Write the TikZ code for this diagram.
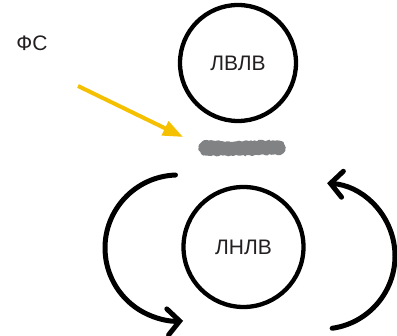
\documentclass[tikz,border=0pt]{standalone}
\usepackage{fontspec}
\setmainfont{Liberation Sans}
\usetikzlibrary{arrows.meta,decorations.pathmorphing}
\definecolor{txt}{RGB}{35,31,32}
\definecolor{smudgegray}{RGB}{128,130,132}
\definecolor{gold}{RGB}{245,192,0}
\tikzset{
  ring/.style={circle, draw=black, line width=4.3pt, inner sep=0pt, font=\fontsize{21}{21}\selectfont, text=txt},
  label/.style={font=\fontsize{21}{21}\selectfont, text=txt, inner sep=0pt},
  cycle/.style={line width=5pt, line cap=round, -{Straight Barb[length=12pt,width=26pt,line cap=round]}},
  hint/.style={gold, line width=4pt, -{Triangle[length=20pt,width=15pt]}}
}
\begin{document}
\begin{tikzpicture}[x=1pt,y=1pt]
\useasboundingbox (0,0) rectangle (397,336);
\node[label] (fs) at (32,293) {ФС};
\node[ring, minimum size=116pt] (top) at (238,273) {ЛВЛВ};
\node[ring, minimum size=120pt] (bot) at (243.5,89) {ЛНЛВ};
\node[minimum width=86pt, minimum height=15pt, inner sep=0pt] (smudge) at (242,188) {};
\fill[smudgegray, decorate, decoration={random steps, segment length=2pt, amplitude=0.7pt}]
  (smudge.west) to[out=90,in=180] ([xshift=8pt]smudge.north west)
  to[out=0,in=180] ([xshift=30pt,yshift=-1pt]smudge.north west)
  to[out=0,in=180] ([xshift=-8pt]smudge.north east)
  to[out=0,in=90] ([yshift=-1pt]smudge.east)
  to[out=-90,in=0] ([xshift=-8pt,yshift=1pt]smudge.south east)
  to[out=180,in=0] ([xshift=40pt]smudge.south west)
  to[out=180,in=0] ([xshift=8pt]smudge.south west)
  to[out=180,in=-90] (smudge.west);
\coordinate (hstart) at (78,250);
\coordinate (htip) at (183,199);
\draw[hint] (hstart) -- (htip);
\coordinate (lc) at (178,88);
\coordinate (rc) at (322,80);
\draw[cycle] ([shift={(92:73pt)}]lc) arc[start angle=92, end angle=274, radius=73pt];
\draw[cycle] ([shift={(-82:73pt)}]rc) arc[start angle=-82, end angle=86, radius=73pt];
\end{tikzpicture}
\end{document}
